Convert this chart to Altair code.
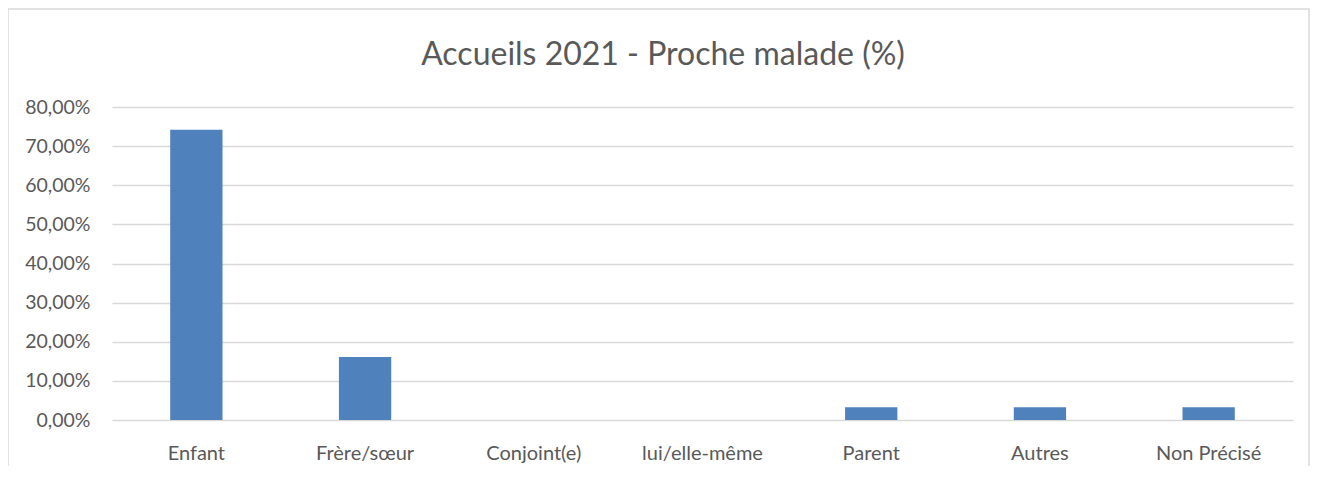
import altair as alt
import pandas as pd

categories = ["Enfant", "Frère/sœur", "Conjoint(e)", "lui/elle-même", "Parent", "Autres", "Non Précisé"]
values = [0.7419, 0.1613, 0.0, 0.0, 0.0323, 0.0323, 0.0323]
y_ticks = [0.0, 0.1, 0.2, 0.3, 0.4, 0.5, 0.6, 0.7, 0.8]
title_text = "Accueils 2021 - Proche malade (%)"

df = pd.DataFrame({"cat": categories, "val": values})

FONT = "Lato"
GRAY = "#595959"

bars = alt.Chart(df).mark_bar(color="#4F81BD").encode(
    x=alt.X("cat:N", sort=categories,
            scale=alt.Scale(paddingInner=0.69, paddingOuter=0.345),
            axis=alt.Axis(title=None, labelAngle=0, domain=False, ticks=False, tickSize=0,
                          labelPadding=23, labelFont=FONT, labelFontSize=20, labelColor=GRAY,
                          grid=False)),
    y=alt.Y("val:Q", scale=alt.Scale(domain=[0, 0.8], nice=False),
            axis=alt.Axis(title=None, values=y_ticks, domain=False, ticks=False, tickSize=0,
                          labelPadding=22, labelFont=FONT, labelFontSize=19.5, labelColor=GRAY,
                          labelExpr="replace(format(datum.value, '.2%'), '.', ',')",
                          grid=True, gridColor="#d9d9d9", gridWidth=1.5)),
)

frame = alt.Chart(pd.DataFrame({"t": [title_text]})).mark_rect(
    fill=None, stroke="#d9d9d9", strokeWidth=1.5
).encode(
    x=alt.value(-104), x2=alt.value(1197), y=alt.value(-98), y2=alt.value(420)
)

title = alt.Chart(pd.DataFrame({"t": [title_text]})).mark_text(
    font=FONT, fontSize=32, color=GRAY, align="center", baseline="alphabetic"
).encode(
    text="t:N", x=alt.value(551), y=alt.value(-42)
)

chart = alt.layer(frame, bars, title).properties(
    width=1181, height=313,
    autosize=alt.AutoSizeParams(type="none"),
    padding={"left": 104, "top": 99, "right": 18, "bottom": 46},
).configure_view(stroke=None)

chart.save("out.html", embed_options={"renderer": "svg", "actions": False})
